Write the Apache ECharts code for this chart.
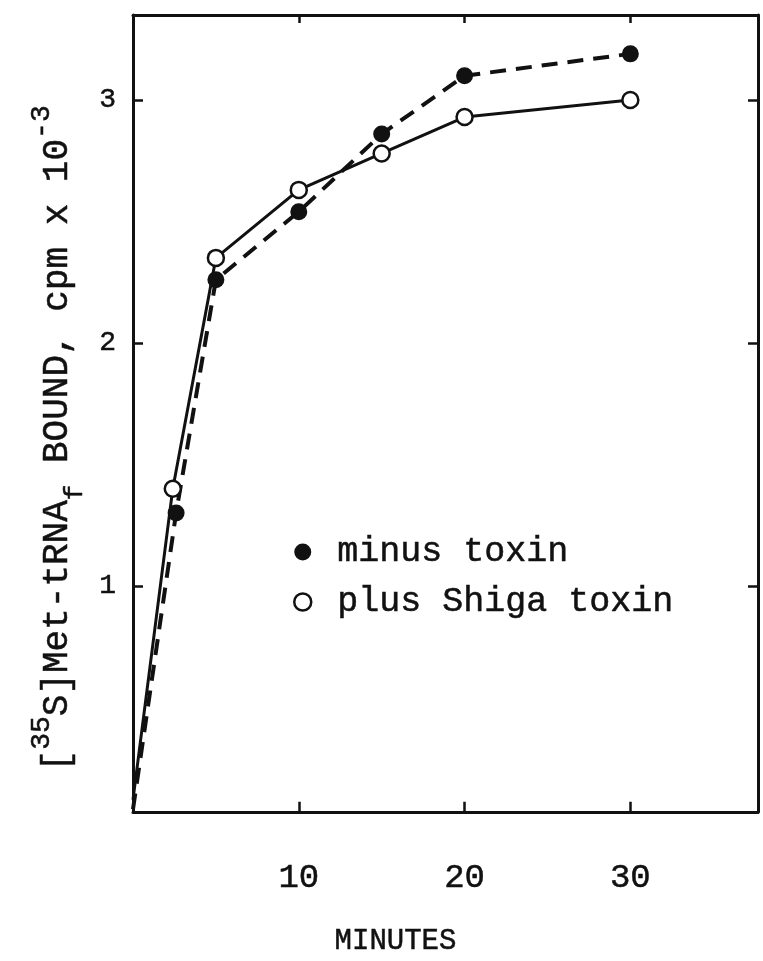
<!DOCTYPE html>
<html><head><meta charset="utf-8">
<script src="https://cdn.jsdelivr.net/npm/echarts@6/dist/echarts.min.js"></script>
<style>html,body{margin:0;padding:0;background:#fff}#c{width:763px;height:961px}</style>
</head><body><div id="c"></div>
<script>
const timesMinus = [0, 2.6, 5, 10, 15, 20, 30];
const valuesMinus = [0.08, 1.30, 2.26, 2.54, 2.86, 3.10, 3.19];
const timesPlus = [0, 2.4, 5, 10, 15, 20, 30];
const valuesPlus = [0.12, 1.40, 2.35, 2.63, 2.78, 2.93, 3.00];
const xTicks = [10, 20, 30];
const yTicks = [1, 2, 3];
const seriesNames = ['minus toxin', 'plus Shiga toxin'];
const xTitle = 'MINUTES';
const yTitle = '[{sup|35}S]Met-tRNA{sub|f} BOUND, cpm x 10{sup|-3}';

const INK = '#111';
const FONT = 'Liberation Mono';
const X_MIN = 0, X_MAX = 37.7, Y_MIN = 0.07, Y_MAX = 3.35;
const ink = { color: INK, fontFamily: FONT, textBorderColor: INK, textBorderWidth: 0.5 };

function build(times, values) {
  return times.map((t, i) => i === 0 ? { value: [t, values[i]], symbol: 'none' } : [t, values[i]]);
}

const axisLine = { show: true, onZero: false, lineStyle: { color: INK, width: 3 } };

const chart = echarts.init(document.getElementById('c'), null, { renderer: 'canvas' });
chart.setOption({
  animation: false,
  backgroundColor: '#fff',
  grid: { left: 133, right: 5, top: 15, bottom: 146, containLabel: false },
  xAxis: [
    {
      type: 'value', min: X_MIN, max: X_MAX, position: 'bottom',
      axisLine: axisLine,
      axisTick: { show: true, inside: true, length: 10, customValues: xTicks, lineStyle: { color: INK, width: 2.5 } },
      axisLabel: Object.assign({ show: true, customValues: xTicks, fontSize: 34, margin: 49 }, ink),
      splitLine: { show: false },
      name: xTitle, nameLocation: 'middle', nameGap: 115,
      nameTextStyle: Object.assign({ fontSize: 29, padding: [0, 100, 0, 0] }, ink)
    },
    {
      type: 'value', min: X_MIN, max: X_MAX, position: 'top',
      axisLine: axisLine,
      axisTick: { show: true, inside: true, length: 8, customValues: xTicks, lineStyle: { color: INK, width: 2.5 } },
      axisLabel: { show: false },
      splitLine: { show: false }
    }
  ],
  yAxis: [
    {
      type: 'value', min: Y_MIN, max: Y_MAX, position: 'left',
      axisLine: axisLine,
      axisTick: { show: true, inside: true, length: 10, customValues: yTicks, lineStyle: { color: INK, width: 2.5 } },
      axisLabel: Object.assign({ show: true, customValues: yTicks, fontSize: 28, margin: 17 }, ink),
      splitLine: { show: false },
      name: yTitle, nameLocation: 'middle', nameRotate: 90, nameGap: 43,
      nameTextStyle: Object.assign({
        fontSize: 36, lineHeight: 60, padding: [0, 50, 0, 0],
        rich: {
          sup: Object.assign({ fontSize: 28, lineHeight: 4, verticalAlign: 'top' }, ink),
          sub: Object.assign({ fontSize: 26, lineHeight: 40, verticalAlign: 'bottom' }, ink)
        }
      }, ink)
    },
    {
      type: 'value', min: Y_MIN, max: Y_MAX, position: 'right',
      axisLine: axisLine,
      axisTick: { show: true, inside: true, length: 10, customValues: yTicks, lineStyle: { color: INK, width: 2.5 } },
      axisLabel: { show: false },
      splitLine: { show: false }
    }
  ],
  legend: {
    orient: 'vertical', left: 293, top: 532, padding: 0, itemGap: 10,
    itemWidth: 17, itemHeight: 17,
    formatter: n => ' ' + n,
    textStyle: Object.assign({ fontSize: 35, lineHeight: 40 }, ink),
    data: [
      { name: seriesNames[0], icon: 'circle', itemStyle: { color: INK, borderWidth: 0 } },
      { name: seriesNames[1], icon: 'circle', itemStyle: { color: '#fff', borderColor: INK, borderWidth: 2.5 } }
    ]
  },
  series: [
    {
      name: seriesNames[0], type: 'line', xAxisIndex: 0, yAxisIndex: 0,
      data: build(timesMinus, valuesMinus),
      symbol: 'circle', symbolSize: 17,
      itemStyle: { color: INK },
      lineStyle: { color: INK, width: 4, type: [16, 10] },
      z: 3
    },
    {
      name: seriesNames[1], type: 'line', xAxisIndex: 0, yAxisIndex: 0,
      data: build(timesPlus, valuesPlus),
      symbol: 'circle', symbolSize: 16,
      itemStyle: { color: '#fff', borderColor: INK, borderWidth: 2.5 },
      lineStyle: { color: INK, width: 3, type: 'solid' },
      z: 4
    }
  ]
});
</script>
</body></html>
